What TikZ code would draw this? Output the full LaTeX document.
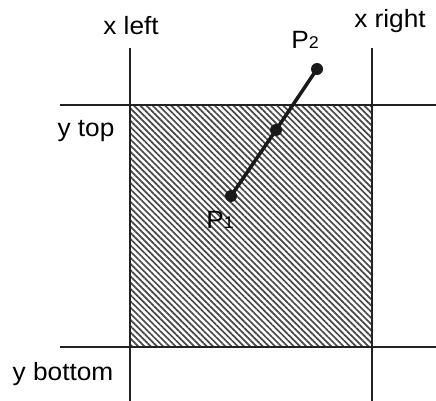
\documentclass[tikz,border=0pt]{standalone}
\usepackage{fontspec}
\setmainfont{Liberation Sans}
\usetikzlibrary{patterns.meta}
\begin{document}
\begin{tikzpicture}[x=1pt,y=-1pt,
  guide/.style={draw=black!87, line width=1.8pt},
  seg/.style={draw=black!90, line width=3.5pt},
  dot/.style={circle, fill=black!90, inner sep=0pt, minimum size=12pt},
  lbl/.style={inner sep=0pt, anchor=base, font=\fontsize{25}{29}\selectfont},
  hatch/.style={pattern={Lines[angle=-45, distance=4.4pt, line width=1.7pt]}, pattern color=black!72}]
\useasboundingbox (0,0) rectangle (436,401);
% hatched region
\fill[hatch] (130,105) rectangle (372,347);
% coordinates
\coordinate (xlt) at (130,48);
\coordinate (xlb) at (130,401);
\coordinate (xrt) at (372,48);
\coordinate (xrb) at (372,401);
\coordinate (ytl) at (60,105);
\coordinate (ytr) at (436,105);
\coordinate (ybl) at (60,347);
\coordinate (ybr) at (436,347);
\draw[guide] (xlt) -- (xlb);
\draw[guide] (xrt) -- (xrb);
\draw[guide] (ytl) -- (ytr);
\draw[guide] (ybl) -- (ybr);
% segment
\node[dot] (p1) at (231,196) {};
\node[dot] (pm) at (276,130) {};
\node[dot] (p2) at (317,69) {};
\draw[seg] (p1.center) -- (pm.center) -- (p2.center);
% labels
\node[lbl] (xl) at (131,35) {\scalebox{1.05}[1]{x left}};
\node[lbl] (xr) at (390,28) {\scalebox{1.05}[1]{x right}};
\node[lbl] (yt) at (86,136) {\scalebox{1.05}[1]{y top}};
\node[lbl] (yb) at (63,380) {\scalebox{1.05}[1]{y bottom}};
\node[lbl] (lp2) at (305,49) {\scalebox{1.05}[1]{P{\fontsize{17}{17}\selectfont 2}}};
\node[lbl] (lp1) at (220,228) {\scalebox{1.05}[1]{P{\fontsize{17}{17}\selectfont 1}}};
\end{tikzpicture}
\end{document}
